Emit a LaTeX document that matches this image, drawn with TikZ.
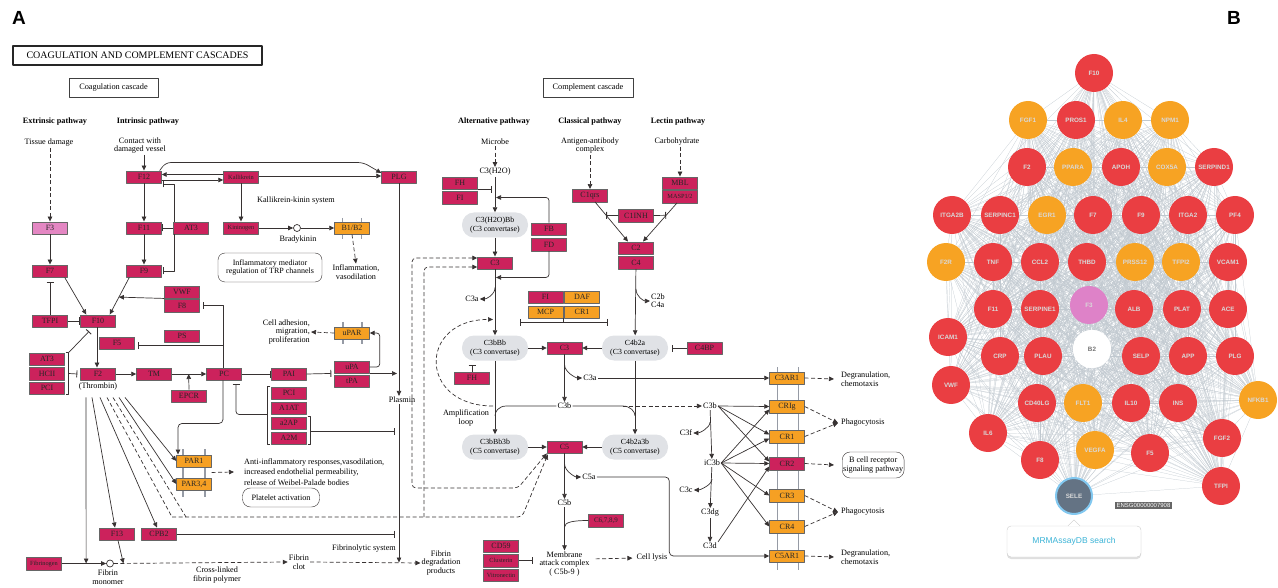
\documentclass[tikz,border=0pt]{standalone}
\usepackage{fontspec}
\setmainfont{Liberation Serif}
\setsansfont{Liberation Sans}
\usetikzlibrary{arrows.meta,shadows,backgrounds}

\definecolor{kegg}{RGB}{204,34,92}
\definecolor{keggor}{RGB}{246,160,35}
\definecolor{keggpk}{RGB}{228,135,195}
\definecolor{grigioconv}{RGB}{224,226,230}
\definecolor{linea}{RGB}{55,50,50}
\definecolor{membr}{RGB}{150,155,165}
\definecolor{rosso}{RGB}{234,62,66}
\definecolor{arancio}{RGB}{247,163,35}
\definecolor{rosa}{RGB}{222,130,200}
\definecolor{bianco}{RGB}{255,255,255}
\definecolor{grigiosele}{RGB}{100,115,132}
\definecolor{anello}{RGB}{130,200,240}
\definecolor{arcorete}{RGB}{192,200,207}
\definecolor{ciano}{RGB}{60,180,215}

\tikzset{
  gene/.style={draw=black!60, fill=kegg, minimum width=35pt, minimum height=12.5pt,
    inner sep=0pt, font=\fontsize{8}{8}\selectfont, text=black!85},
  genep/.style={gene, font=\fontsize{6.3}{6.3}\selectfont},
  geneor/.style={gene, fill=keggor},
  conv/.style={fill=grigioconv, rounded corners=12pt, minimum width=66pt, minimum height=25pt,
    inner sep=0pt, align=center, font=\fontsize{7.8}{9}\selectfont},
  lbl/.style={inner sep=1pt, align=center, font=\fontsize{8.2}{9}\selectfont},
  tit/.style={lbl, font=\fontsize{8.2}{9}\selectfont\bfseries},
  riquadro/.style={draw=black!75, line width=0.6pt, minimum height=19pt, inner sep=0pt,
    font=\fontsize{8.3}{9}\selectfont},
  lin/.style={draw=linea, line width=0.7pt},
  act/.style={lin, ->},
  inh/.style={lin, -{Bar[width=7pt,line width=0.9pt]}},
  ind/.style={act, dash pattern=on 4pt off 2.5pt},
  trat/.style={lin, dash pattern=on 4pt off 2.5pt},
  membrana/.style={draw=membr, line width=1.6pt},
  rete/.style={circle, minimum size=38pt, inner sep=0pt,
    font=\sffamily\bfseries\fontsize{6.3}{6.5}\selectfont, text=white!85!black},
  arco/.style={draw=arcorete, line width=0.22pt}
}

\def\elencogeni{F10,FGF1,PROS1,IL4,NPM1,F2,PPARA,APOH,COX5A,SERPIND1,ITGA2B,SERPINC1,EGR1,F7,F9,ITGA2,PF4,F2R,TNF,CCL2,THBD,PRSS12,TFPI2,VCAM1,F11,SERPINE1,F3,ALB,PLAT,ACE,ICAM1,CRP,PLAU,B2,SELP,APP,PLG,VWF,CD40LG,FLT1,IL10,INS,NFKB1,IL6,F8,VEGFA,F5,FGF2,TFPI,SELE}

\begin{document}
\begin{tikzpicture}[x=1pt, y=-1pt, >={Triangle[length=5pt,width=4.5pt]}, line join=round]
\useasboundingbox (0,0) rectangle (1278,588);

% Lettere dei pannelli
\node[font=\sffamily\bfseries\fontsize{19}{19}\selectfont] (lettA) at (19,18) {A};
\node[font=\sffamily\bfseries\fontsize{19}{19}\selectfont] (lettB) at (1234,18) {B};

% Titoli
\node[draw=black!85, line width=1.3pt, minimum width=249pt, minimum height=19pt, inner sep=0pt,
  font=\fontsize{10}{10}\selectfont] (titolo) at (137.5,55.5) {COAGULATION AND COMPLEMENT CASCADES};
\node[riquadro, minimum width=89pt] (coag) at (113.5,87.5) {Coagulation cascade};
\node[riquadro, minimum width=90pt] (compl) at (588,87.5) {Complement cascade};
\node[tit] (estr) at (55,122) {Extrinsic pathway};
\node[tit] (intr) at (148,122) {Intrinsic pathway};
\node[tit] (alt) at (494,122) {Alternative pathway};
\node[tit] (class) at (590,122) {Classical pathway};
\node[tit] (lect) at (678,122) {Lectin pathway};
\node[lbl] (tessuto) at (49,143) {Tissue damage};
\node[lbl, font=\fontsize{8.2}{8}\selectfont] (contatto) at (140,146) {Contact with\\damaged vessel};
\node[lbl] (microbo) at (495,142) {Microbe};
\node[lbl, font=\fontsize{8.2}{8}\selectfont] (antigene) at (590,146) {Antigen-antibody\\complex};
\node[lbl] (carbo) at (677,142) {Carbohydrate};

% Geni della coagulazione
\node[gene] (F12) at (144,177) {F12};
\node[genep] (Kallikrein) at (241,177) {Kallikrein};
\node[gene] (PLG) at (399,177) {PLG};
\node[gene, fill=keggpk] (F3) at (50,228) {F3};
\node[gene] (F11) at (144,228) {F11};
\node[gene] (AT3a) at (191,228) {AT3};
\node[genep] (Kininogen) at (241,228) {Kininogen};
\node[geneor] (B1B2) at (352,228) {B1/B2};
\node[gene] (F7) at (50,271) {F7};
\node[gene] (F9) at (144,271) {F9};
\node[gene] (VWF) at (182,292) {VWF};
\node[gene] (F8) at (182,305.5) {F8};
\node[gene] (TFPI) at (50,321) {TFPI};
\node[gene] (F10) at (98,321) {F10};
\node[gene] (PS) at (182,336) {PS};
\node[gene] (F5) at (117,343) {F5};
\node[gene] (AT3b) at (47,359) {AT3};
\node[gene] (HCII) at (47,373.5) {HCII};
\node[gene] (PCIa) at (47,388) {PCI};
\node[gene] (F2) at (98,374) {F2};
\node[gene] (TM) at (154,374) {TM};
\node[gene] (PC) at (224,374) {PC};
\node[gene] (PAI) at (289,374) {PAI};
\node[gene] (EPCR) at (189,396) {EPCR};
\node[gene] (PCIb) at (289,393) {PCI};
\node[gene] (A1AT) at (289,408) {A1AT};
\node[gene] (a2AP) at (289,423) {a2AP};
\node[gene] (A2M) at (289,438) {A2M};
\node[geneor] (uPAR) at (352,333) {uPAR};
\node[gene] (uPA) at (352,367) {uPA};
\node[gene] (tPA) at (352,381) {tPA};
\node[geneor] (PAR1) at (194,461) {PAR1};
\node[geneor] (PAR34) at (194,484) {PAR3,4};
\node[gene] (F13) at (117,534) {F13};
\node[gene] (CPB2) at (159,534) {CPB2};
\node[genep] (Fibrinogen) at (44,563.5) {Fibrinogen};

% Testi della coagulazione
\node[lbl] (kkinin) at (296,201) {Kallikrein-kinin system};
\node[circle, draw=linea, line width=0.7pt, fill=white, minimum size=7pt, inner sep=0pt] (brady) at (297,228) {};
\node[lbl] (bradylbl) at (298,240) {Bradykinin};
\node[lbl, font=\fontsize{8.2}{8.5}\selectfont] (infl) at (356,272) {Inflammation,\\vasodilation};
\node[draw=linea, rounded corners=7pt, minimum width=104pt, minimum height=29pt, lbl,
  font=\fontsize{8}{8.5}\selectfont] (trp) at (270,267.5) {Inflammatory mediator\\regulation of TRP channels};
\node[lbl, align=right, anchor=east, font=\fontsize{8.2}{8.5}\selectfont] (celladh) at (311,332) {Cell adhesion,\\migration,\\proliferation};
\node[lbl] (plasmin) at (402,400) {Plasmin};
\node[lbl] (trombina) at (98,387) {(Thrombin)};
\node[lbl, align=left, anchor=west, font=\fontsize{8.2}{10.5}\selectfont] (antiinf) at (243,472)
  {Anti-inflammatory responses,vasodilation,\\increased endothelial permeability,\\release of Weibel-Palade bodies};
\node[draw=linea, rounded corners=8pt, minimum width=77pt, minimum height=19pt, lbl] (piastrine) at (281,497.5) {Platelet activation};
\node[circle, draw=linea, line width=0.7pt, fill=white, minimum size=7pt, inner sep=0pt] (fibmono) at (110,563.5) {};
\node[lbl, font=\fontsize{8.2}{8.5}\selectfont] (fibmonolbl) at (108,577) {Fibrin\\monomer};
\node[lbl, font=\fontsize{8.2}{8.5}\selectfont] (crosslink) at (217,575) {Cross-linked\\fibrin polymer};
\node[lbl, font=\fontsize{8.2}{8.5}\selectfont] (fibclot) at (299,562) {Fibrin\\clot};
\node[lbl] (fibrinol) at (364,549) {Fibrinolytic system};
\node[lbl, font=\fontsize{8.2}{8.5}\selectfont] (fibdeg) at (441,563) {Fibrin\\degradation\\products};
\coordinate (plx) at ([xshift=-3pt]plasmin.north);

% Geni del complemento
\node[gene] (FH) at (460,183) {FH};
\node[gene] (FIa) at (460,197.5) {FI};
\node[gene] (FB) at (549,229) {FB};
\node[gene] (FD) at (549,244.5) {FD};
\node[gene] (C3x) at (495,263) {C3};
\node[gene] (FIb) at (545.5,297) {FI};
\node[geneor] (DAF) at (582,297) {DAF};
\node[geneor] (MCP) at (545.5,312) {MCP};
\node[geneor] (CR1a) at (582,312) {CR1};
\node[gene] (C3y) at (564.5,348) {C3};
\node[gene] (FHb) at (472,378) {FH};
\node[gene] (C1qrs) at (590,195.5) {C1qrs};
\node[gene] (MBL) at (680,183) {MBL};
\node[genep] (MASP) at (680,196.5) {MASP1/2};
\node[gene] (C1INH) at (636,215.5) {C1INH};
\node[gene] (C2) at (636,248) {C2};
\node[gene] (C4) at (636,262.5) {C4};
\node[gene] (C4BP) at (704.5,348) {C4BP};
\node[gene] (C5) at (564.5,447) {C5};
\node[gene, font=\fontsize{7}{7}\selectfont] (C6789) at (606,520.5) {C6,7,8,9};
\node[gene] (CD59) at (501,546) {CD59};
\node[genep] (Clusterin) at (501,560.5) {Clusterin};
\node[genep] (Vitronectin) at (501,575) {Vitronectin};

% Convertasi
\node[conv] (C3H2OBb) at (495,225) {C3(H2O)Bb\\(C3 convertase)};
\node[conv] (C3bBb) at (495,348) {C3bBb\\(C3 convertase)};
\node[conv] (C4b2a) at (635,348) {C4b2a\\(C3 convertase)};
\node[conv] (C3bBb3b) at (495,447) {C3bBb3b\\(C5 convertase)};
\node[conv] (C4b2a3b) at (635,447) {C4b2a3b\\(C5 convertase)};

% Recettori
\node[geneor] (C3AR1) at (787,378) {C3AR1};
\node[geneor] (CRIg) at (787,406.5) {CRIg};
\node[geneor] (CR1b) at (787,436.5) {CR1};
\node[gene] (CR2) at (787,463.5) {CR2};
\node[geneor] (CR3) at (787,495.5) {CR3};
\node[geneor] (CR4) at (787,526.5) {CR4};
\node[geneor] (C5AR1) at (787,556) {C5AR1};

% Testi del complemento
\node[lbl] (c3h2o) at (495,172) {C3(H2O)};
\node[lbl] (c3aA) at (472,299) {C3a};
\node[lbl] (c3aB) at (590,378) {C3a};
\node[lbl] (c3bC) at (564.5,406) {C3b};
\node[lbl] (c3bR) at (710,406) {C3b};
\node[lbl] (c3f) at (686,433) {C3f};
\node[lbl] (ic3b) at (712,463) {iC3b};
\node[lbl] (c3c) at (686,490) {C3c};
\node[lbl] (c3dg) at (710,513) {C3dg};
\node[lbl] (c3d) at (710,546) {C3d};
\node[lbl] (c5a) at (589,477) {C5a};
\node[lbl] (c5b) at (564.5,503) {C5b};
\node[lbl, align=left, font=\fontsize{8.2}{8}\selectfont] (c2b) at (658,301) {C2b\\C4a};
\node[lbl, font=\fontsize{8.2}{8.7}\selectfont] (mac) at (564.5,564) {Membrane\\attack complex\\( C5b-9 )};
\node[lbl] (lisi) at (652,558) {Cell lysis};
\node[lbl, font=\fontsize{8.2}{8.5}\selectfont] (amplif) at (466,418) {Amplification\\loop};
\node[lbl, align=left, anchor=west, font=\fontsize{8.2}{8.5}\selectfont] (degr1) at (840,379) {Degranulation,\\chemotaxis};
\node[lbl, anchor=west] (fago1) at (840,423) {Phagocytosis};
\node[lbl, anchor=west] (fago2) at (840,512) {Phagocytosis};
\node[lbl, align=left, anchor=west, font=\fontsize{8.2}{8.5}\selectfont] (degr2) at (840,557) {Degranulation,\\chemotaxis};
\begin{scope}
  \clip (0,0) rectangle (910,588);
  \node[draw=linea, rounded corners=8pt, minimum height=26pt, anchor=west, lbl,
    font=\fontsize{8.2}{8.5}\selectfont] (bcell) at (842,465) {B cell receptor\\signaling pathway};
\end{scope}

% Membrane dei recettori
\begin{scope}[on background layer]
  \draw[membrana] (342.5,218) -- (342.5,239) (361.5,218) -- (361.5,239);
  \draw[membrana] (343,322) -- (343,344) (362,322) -- (362,344);
  \draw[membrana] (183,449) -- (183,497) (205,449) -- (205,497);
  \draw[membrana] (777.5,367) -- (777.5,570) (798.5,367) -- (798.5,570);
\end{scope}

% Via estrinseca e intrinseca
\draw[ind] (tessuto.south -| F3.north) -- (F3.north);
\draw[act] (contatto.south -| F12.north) -- (F12.north);
\draw[act] (F12) -- (F11);
\draw[act] (F11) -- (F9);
\draw[act] ([yshift=-3pt]F12.east) -- ([yshift=-3pt]Kallikrein.west);
\draw[act] ([yshift=2.5pt]Kallikrein.west) -- ([yshift=2.5pt]F12.east);
\draw[act, rounded corners=5] ([xshift=-2pt]F12.north east) -- ([xshift=4pt,yshift=8pt]F12.north east)
  -- ([xshift=-18pt,yshift=8pt]PLG.north west) -- ([yshift=4pt]PLG.west);
\draw[act] ([yshift=1pt]Kallikrein.east) -- ([yshift=1pt]PLG.west);
\draw[act] (Kallikrein) -- (Kininogen);
\draw[inh] ([xshift=1.5pt]AT3a.north west) |- ([xshift=1.5pt,yshift=-7pt]F12.east);
\draw[inh] (AT3a.west) -- (F11.east);
\draw[inh] ([xshift=1.5pt]AT3a.south west) |- ([xshift=1.5pt]F9.east);
\draw[act] (Kininogen.east) -- (brady.west);
\draw[act] (brady.east) -- (B1B2.west);
\draw[ind] (B1B2.south) -- (infl.north);
\draw[act] (F3) -- (F7);
\draw[inh] (TFPI.north) -- ([yshift=-5pt]F7.south);
\draw[inh] (TFPI.east) -- (F10.west);
\draw[act] ([xshift=-3pt]F7.south east) -- ([xshift=6pt]F10.north west);
\draw[act] ([xshift=3pt]F9.south west) -- coordinate[pos=0.53] (f9f10) ([xshift=-6pt]F10.north east);
\draw[act] (VWF.south west) -- (f9f10);
\draw[inh] ([xshift=-1pt]PC.north) |- ([xshift=3pt]F8.east);
\draw[inh] ([xshift=-1pt]PC.north) |- ([xshift=3pt,yshift=-2pt]F5.east);
\draw[act] ([xshift=-1pt]F10.south) -- ([xshift=-1pt]F2.north);
\draw[lin] ([xshift=1pt]AT3b.north east) -- ([xshift=4pt]AT3b.north east) -- ([xshift=4pt]PCIa.south east) -- ([xshift=1pt]PCIa.south east);
\draw[inh] ([xshift=4pt]HCII.east) -- ([xshift=-3pt]F2.west);
\draw[inh] ([xshift=4pt]AT3b.north east) -- ([xshift=-9pt,yshift=-4pt]F10.south);
\draw[act] (F2) -- (TM);
\draw[act] (TM.east) -- coordinate[pos=0.49] (tmpc) (PC.west);
\draw[act] (EPCR.north) -- (tmpc);
\draw[inh] (PC.east) -- (PAI.west);
\draw[inh] (PAI.east) -- ([xshift=-3pt]uPA.south west);
\draw[lin] ([xshift=-1pt]PCIb.north west) -- ([xshift=-4pt]PCIb.north west) -- ([xshift=-4pt]A2M.south west) -- ([xshift=-1pt]A2M.south west);
\draw[inh, rounded corners=3] ([xshift=-4pt]A1AT.south west) -| ([xshift=12pt,yshift=-4pt]PC.south);
\draw[lin] ([xshift=1pt]a2AP.north east) -- ([xshift=4pt]a2AP.north east) -- ([xshift=4pt]A2M.south east) -- ([xshift=1pt]A2M.south east);
\draw[inh, shorten >=4pt] ([xshift=4pt]A2M.north east) -- (plx |- A2M.north east);
\draw[act, rounded corners=3] (uPA.east) -- ([xshift=10pt]uPA.east) |- (uPAR.east);
\draw[ind] (uPAR.west) -- (celladh.east);
\draw[act, shorten >=2pt] (uPA.south east) -- (plx |- uPA.south east);
\draw[act] (PLG.south) -- (plx);
\draw[act, rounded corners=4] ([xshift=-1pt]PC.south) -- ([xshift=-1pt,yshift=-43pt]PC.south) -| ([xshift=-16pt]PAR1.north);

% Trombina
\draw[act] (Fibrinogen.east) -- coordinate[pos=0.55] (fg) (fibmono.west);
\draw[act] ([xshift=-12pt,yshift=-17pt]F2.south) -- (fg);
\draw[act] ([xshift=-6pt,yshift=-17pt]F2.south) -- ([xshift=-2pt]F13.north);
\draw[act] ([xshift=2pt,yshift=-17pt]F2.south) -- ([xshift=-2pt]CPB2.north);
\draw[act] ([xshift=21pt,yshift=-17pt]F2.south) -- (PAR34.west);
\draw[act] ([xshift=27pt,yshift=-17pt]F2.south) -- (PAR1.west);
\coordinate (trA) at (172,517);
\coordinate (trA2) at (186,517);
\coordinate (trB) at (424,517);
\coordinate (trC) at (522,517);
\draw[trat] ([xshift=9pt,yshift=-17pt]F2.south) -- (trA);
\draw[trat] ([xshift=15pt,yshift=-17pt]F2.south) -- (trA2);
\draw[ind, rounded corners=4] (trA) -- (trC) -- ([xshift=1pt,yshift=-1pt]C5.south west);
\draw[ind, rounded corners=4] (trB) |- ([yshift=-4pt]C3x.west);
\draw[ind, <->, rounded corners=4] ([yshift=5pt]C3x.west) -| (412,488) -- (518,488) -- (C5.south west);
\draw[ind] ([yshift=-5pt]PAR1.south east) -- ([xshift=-9pt]antiinf.west);
\draw[ind] (fibmono.east) -- coordinate[pos=0.055] (f13t) (fibclot.west);
\draw[act] ([xshift=1pt]F13.south) -- (f13t);
\draw[inh, shorten >=4pt] (CPB2.east) -- (plx |- CPB2.east);
\draw[ind] (fibclot.east) -- coordinate (pfd) (fibdeg.west);
\draw[act] (plx |- plasmin.south) -- (plx |- pfd);

% Via alternativa
\draw[ind] (microbo) -- (c3h2o);
\draw[act] (c3h2o.south) -- (C3H2OBb.north);
\draw[inh, shorten >=3pt] (FH.south east) -- (c3h2o.south |- FH.south east);
\draw[act, rounded corners=3, shorten >=1pt] (FB.north) |- (c3h2o.south |- FIa.east);
\draw[act] (C3H2OBb.south) -- (C3x.north);
\draw[act, rounded corners=3, shorten >=1pt] (FD.south) |- ([yshift=-8pt]C3x.south);
\draw[act] (C3x.south) -- (C3bBb.north);
\draw[act] ([yshift=-18pt]C3x.south) .. controls +(0,8) and +(6,0) .. (c3aA.east);
\draw[inh] (FHb.north) -- ([xshift=-23pt,yshift=-4pt]C3bBb.south);
\draw[inh] (MCP.south east) |- ([xshift=25pt,yshift=13pt]C3bBb.north);
\draw[inh] (MCP.south east) |- ([xshift=-27pt,yshift=13pt]C4b2a.north);
\draw[act] (C3bBb) -- (C3y);
\draw[act] (C4b2a) -- (C3y);
\draw[act] (C3y) -- (c3bC);
\draw[act] ([yshift=-10pt]C3y.south) .. controls +(0,8) and +(-6,0) .. (c3aB.west);
\draw[act] (c3aB.east) -- (C3AR1.west);
\draw[lin] (c3bC.west) -- ([xshift=-50pt]c3bC.west) .. controls +(-8,0) and +(0,-4) .. ([yshift=-55pt]C3bBb.south);
\coordinate (amp0) at (493,406);
\draw[ind] (amp0) .. controls +(-75,0) and +(-75,0) .. ([xshift=-2pt,yshift=-50pt]C3x.south);
\draw[lin] (c3bC.east) -- ([xshift=50pt]c3bC.east) .. controls +(8,0) and +(0,-4) .. ([yshift=-55pt]C4b2a.south);
\draw[ind] ([xshift=50pt]c3bC.east) -- (c3bR.west);
\draw[act] (C3bBb) -- (C3bBb3b);
\draw[act] (C4b2a) -- (C4b2a3b);
\draw[act] (C3bBb3b) -- (C5);
\draw[act] (C4b2a3b) -- (C5);
\draw[inh] (C4BP.west) -- ([xshift=4pt]C4b2a.east);

% Via classica e lectinica
\draw[ind] (antigene) -- (C1qrs);
\draw[ind] (carbo.south -| MBL.north) -- (MBL.north);
\draw[act] ([xshift=5pt]C1qrs.south) -- coordinate[pos=0.34] (c1l) ([xshift=-8pt]C2.north);
\draw[act] ([xshift=-3pt]MASP.south) -- coordinate[pos=0.32] (c1r) ([xshift=7pt]C2.north);
\draw[inh] (C1INH.west) -- (c1l);
\draw[inh] (C1INH.east) -- (c1r);
\draw[act] (C4) -- (C4b2a);
\draw[act] ([yshift=-20pt]C4.south) .. controls +(0,8) and +(-6,0) .. (c2b.west);

% Complesso di attacco
\draw[act] ([yshift=-10pt]C5.south) .. controls +(0,8) and +(-6,0) .. (c5a.west);
\draw[act, rounded corners=4] (c5a.east) -| ([xshift=-100pt]C5AR1.west) -- (C5AR1.west);
\draw[act] (C5) -- (c5b);
\draw[act] (c5b) -- (mac);
\draw[lin] (C6789.west) .. controls +(-15,0) and +(0,-5) .. ([yshift=-20pt]c5b.south);
\draw[inh, shorten >=5pt] (Clusterin.east) -- (mac.west |- Clusterin.east);
\draw[ind, shorten <=5pt, shorten >=3pt] ([yshift=5pt]mac.east) -- (lisi.west);

% Frammenti di C3
\draw[act] (c3bR) -- (ic3b);
\draw[act] (ic3b) -- (c3dg);
\draw[act] (c3dg) -- (c3d);
\draw[act] ([yshift=-12pt]c3bR.south) .. controls +(0,6) and +(6,0) .. (c3f.east);
\draw[act] ([yshift=-12pt]ic3b.south) .. controls +(0,6) and +(6,0) .. (c3c.east);
\draw[act] (c3bR.east) -- (CRIg.west);
\draw[act] (c3bR.east) -- ([yshift=2pt]CR1b.west);
\draw[act] (c3bR.east) -- ([yshift=2pt]CR2.west);
\draw[act] (ic3b.east) -- ([yshift=-3pt]CRIg.west);
\draw[act] (ic3b.east) -- ([yshift=-2pt]CR1b.west);
\draw[act] (ic3b.east) -- (CR2.west);
\draw[act] (ic3b.east) -- (CR3.west);
\draw[act] (ic3b.east) -- (CR4.west);
\draw[act] (c3d.north east) -- ([yshift=-3pt]CR2.west);

% Esiti dei recettori
\draw[ind] (C3AR1.east) -- ([xshift=-6pt]degr1.west);
\draw[ind] (CRIg.east) -- ([xshift=-2pt]fago1.west);
\draw[ind] (CR1b.east) -- ([xshift=-2pt]fago1.west);
\draw[ind] (CR2.east) -- ([xshift=-8pt]bcell.west);
\draw[ind] (CR3.east) -- ([xshift=-2pt]fago2.west);
\draw[ind] (CR4.east) -- ([xshift=-2pt]fago2.west);
\draw[ind] (C5AR1.east) -- ([xshift=-6pt]degr2.west);

% Rete dei geni
\foreach \nome/\x/\y/\col in {F10/1094/73/rosso, FGF1/1028/120/arancio, PROS1/1076/120/rosso,
  IL4/1123/120/arancio, NPM1/1170/120/arancio, F2/1027/167/rosso, PPARA/1073/167/arancio,
  APOH/1121/167/rosso, COX5A/1167/167/arancio, SERPIND1/1214/167/rosso, ITGA2B/952/215/rosso,
  SERPINC1/1000/215/rosso, EGR1/1047/215/arancio, F7/1093/215/rosso, F9/1141/215/rosso,
  ITGA2/1188/215/rosso, PF4/1235/215/rosso, F2R/946/262/arancio, TNF/993/262/rosso,
  CCL2/1040/262/rosso, THBD/1087/262/rosso, PRSS12/1135/262/arancio, TFPI2/1181/262/arancio,
  VCAM1/1228/262/rosso, F11/993/309/rosso, SERPINE1/1040/309/rosso, F3/1089/305/rosa,
  ALB/1134/309/rosso, PLAT/1182/309/rosso, ACE/1228/309/rosso, ICAM1/948/337/rosso,
  CRP/1000/356/rosso, PLAU/1043/356/rosso, B2/1092/349/bianco, SELP/1141/356/rosso,
  APP/1188/356/rosso, PLG/1235/356/rosso, VWF/951/385/rosso, CD40LG/1037/403/rosso,
  FLT1/1083/403/arancio, IL10/1131/403/rosso, INS/1178/403/rosso, NFKB1/1258/400/arancio,
  IL6/988/433/rosso, F8/1040/460/rosso, VEGFA/1095/450/arancio, F5/1150/453/rosso,
  FGF2/1222/438/rosso, TFPI/1221/486/rosso}
  \node[rete, fill=\col] (n\nome) at (\x,\y) {\nome};
\node[rete, fill=grigiosele, draw=anello, line width=2pt, minimum size=36pt] (nSELE) at (1074,496) {SELE};
\node[rete, text=black!55, fill=bianco] at (nB2) {B2};
\node[fill=black!60, text=white, font=\sffamily\fontsize{6}{6}\selectfont, inner xsep=1.5pt, inner ysep=1pt] (ensg) at (1143.5,505.5) {ENSG00000007908};
\begin{scope}[on background layer]
  \foreach \a [count=\i] in \elencogeni {
    \foreach \b [count=\j] in \elencogeni {
      \ifnum\j>\i \draw[arco] (n\a) -- (n\b); \fi
    }
  }
\end{scope}

% Finestra di ricerca
\node[draw=black!20, fill=white, rounded corners=4pt, minimum width=134pt, minimum height=31pt,
  drop shadow={opacity=0.25, shadow xshift=0pt, shadow yshift=-2pt},
  font=\sffamily\fontsize{8.5}{9}\selectfont, text=ciano] (ricerca) at (1074,541.5) {MRMAssayDB search};
\draw[draw=black!20, fill=white] ([xshift=-6pt]ricerca.north) -- ([yshift=6pt]ricerca.north) -- ([xshift=6pt]ricerca.north);
\end{tikzpicture}
\end{document}
